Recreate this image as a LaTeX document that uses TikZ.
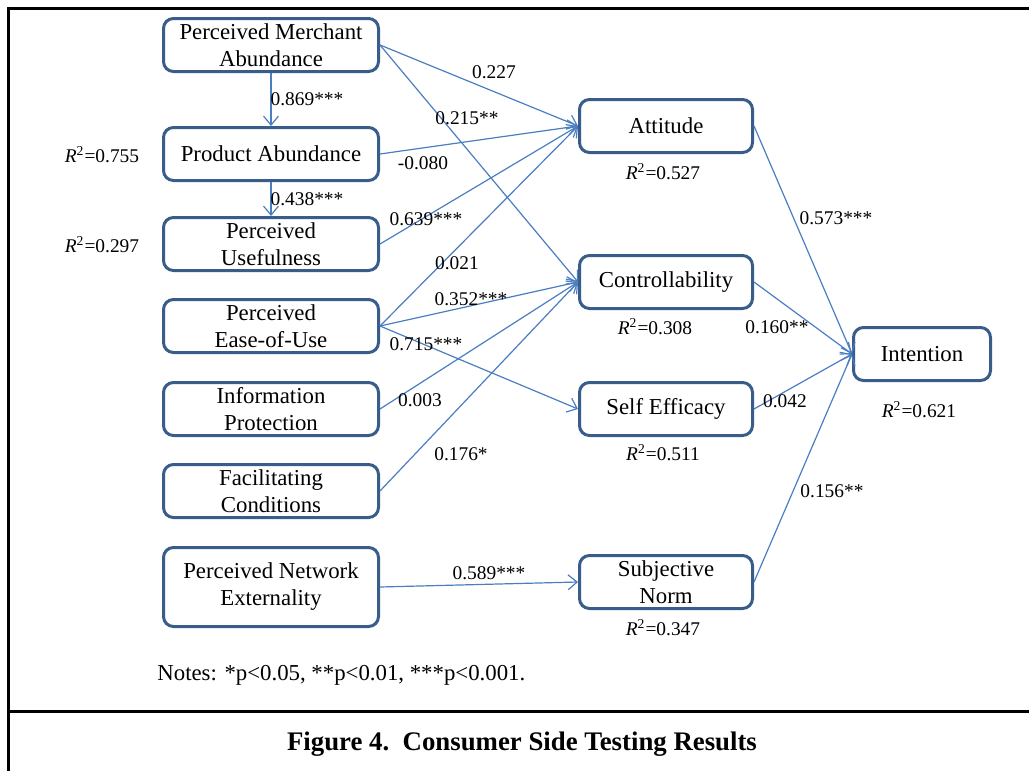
\documentclass[tikz,border=0pt]{standalone}
\usepackage{fontspec}
\setmainfont{Liberation Serif}
\usetikzlibrary{arrows.meta}
\definecolor{boxblue}{RGB}{56,93,138}
\definecolor{linkblue}{RGB}{74,126,193}
\newcommand{\rsq}[1]{\textit{R}\textsuperscript{2}=#1}
\tikzset{
  construct/.style={draw=boxblue, line width=1.5pt, rounded corners=5pt, fill=white,
    minimum width=107.5pt, minimum height=26.5pt, align=center, inner sep=1pt,
    font=\fontsize{11.4}{13.5}\selectfont},
  outcome/.style={construct, minimum width=86.5pt},
  path link/.style={draw=linkblue, line width=0.6pt,
    -{Straight Barb[length=4.5pt,width=7.5pt,line width=0.6pt]}},
  coef/.style={inner sep=0pt, font=\fontsize{9.7}{11}\selectfont},
  frameline/.style={line width=1.5pt}
}
\begin{document}
\begin{tikzpicture}[x=0.5pt,y=-0.5pt]
\useasboundingbox (0,0) rectangle (1029,771);
% outer frame
\draw[frameline] (1029,8) -- (8,8) -- (8,771);
\draw[frameline] (8,711) -- (1029,711);

% antecedents
\node[construct] (pma) at (271,45)  {Perceived Merchant\\Abundance};
\node[construct] (pa)  at (271,154) {Product Abundance};
\node[construct] (pu)  at (271,244) {Perceived\\Usefulness};
\node[construct] (peu) at (271,326) {Perceived\\Ease-of-Use};
\node[construct] (ip)  at (271,409) {Information\\Protection};
\node[construct] (fc)  at (271,491) {Facilitating\\Conditions};
\node[construct, minimum height=39.5pt] (pne) at (271,587) {Perceived Network\\Externality};

% mediators
\node[outcome] (att)  at (666,126) {Attitude};
\node[outcome] (ctrl) at (666,282) {Controllability};
\node[outcome] (se)   at (666,409) {Self Efficacy};
\node[outcome] (sn)   at (666,582) {Subjective\\Norm};

% outcome
\node[construct, minimum width=68.5pt] (int) at (922,354) {Intention};

% paths
\draw[path link] (pma.south) -- (pa.north);
\draw[path link] (pa.south) -- (pu.north);
\draw[path link] (pma.east) -- (att.west);
\draw[path link] (pma.east) -- (ctrl.west);
\draw[path link] (pa.east) -- (att.west);
\draw[path link] (pu.east) -- (att.west);
\draw[path link] (peu.east) -- (att.west);
\draw[path link] (peu.east) -- (ctrl.west);
\draw[path link] (peu.east) -- (se.west);
\draw[path link] (ip.east) -- (ctrl.west);
\draw[path link] (fc.east) -- (ctrl.west);
\draw[path link] (pne.east) -- (sn.west);
\draw[path link] (att.east) -- (int.west);
\draw[path link] (ctrl.east) -- (int.west);
\draw[path link] (se.east) -- (int.west);
\draw[path link] (sn.east) -- (int.west);

% path coefficients
\node[coef] (c1)  at (307,99)  {0.869***};
\node[coef] (c2)  at (307,199) {0.438***};
\node[coef] (c3)  at (494,72)  {0.227};
\node[coef] (c4)  at (467,118) {0.215**};
\node[coef] (c5)  at (423,163) {-0.080};
\node[coef] (c6)  at (426,219) {0.639***};
\node[coef] (c7)  at (457,263) {0.021};
\node[coef] (c8)  at (471,299) {0.352***};
\node[coef] (c9)  at (426,344) {0.715***};
\node[coef] (c10) at (420,400) {0.003};
\node[coef] (c11) at (461,454) {0.176*};
\node[coef] (c12) at (489,573) {0.589***};
\node[coef] (c13) at (836,218) {0.573***};
\node[coef] (c14) at (777,327) {0.160**};
\node[coef] (c15) at (785,401) {0.042};
\node[coef] (c16) at (832,491) {0.156**};

% explained variance
\node[coef] (r1) at (102,155) {\rsq{0.755}};
\node[coef] (r2) at (102,245) {\rsq{0.297}};
\node[coef] (r3) at (663,172) {\rsq{0.527}};
\node[coef] (r4) at (655,327) {\rsq{0.308}};
\node[coef] (r5) at (663,453) {\rsq{0.511}};
\node[coef] (r6) at (663,628) {\rsq{0.347}};
\node[coef] (r7) at (919,410) {\rsq{0.621}};

% notes and caption
\node[coef, anchor=west, font=\fontsize{11.4}{13}\selectfont] (notes) at (157,675)
  {Notes: *p<0.05, **p<0.01, ***p<0.001.};
\node[inner sep=0pt, font=\fontsize{13.4}{15}\selectfont\bfseries] (caption) at (522,744)
  {Figure 4.\ \ Consumer Side Testing Results};
\end{tikzpicture}
\end{document}
